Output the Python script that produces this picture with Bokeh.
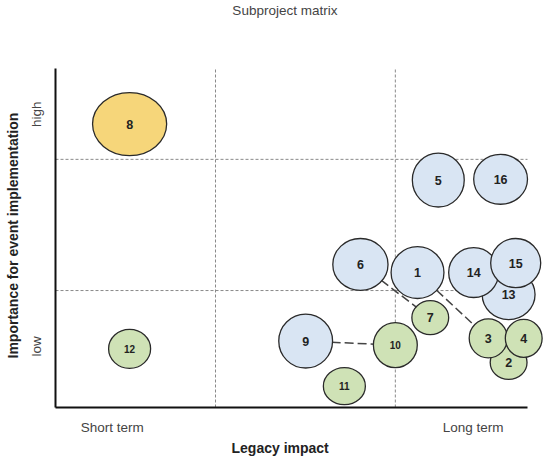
from bokeh.plotting import figure
from bokeh.models import ColumnDataSource, Range1d, FixedTicker, Title, Label
from bokeh.embed import file_html
from bokeh.resources import INLINE
from bokeh.core.properties import value

# ---- data ----
ids        = ["8", "12", "5", "16", "6", "1", "13", "14", "15", "7", "2", "3", "4", "9", "10", "11"]
legacy     = [15.7, 15.7, 81.1, 94.3, 64.6, 76.7, 96.0, 88.6, 97.5, 79.4, 96.0, 91.7, 99.2, 53.0, 72.0, 61.2]
importance = [83.6, 17.3, 67.1, 67.3, 42.2, 39.8, 33.3, 39.8, 42.6, 26.5, 13.3, 20.4, 20.4, 19.6, 18.4, 6.3]
extent_x   = [15.7, 8.9, 11.0, 11.4, 11.7, 11.2, 11.2, 10.6, 10.6, 7.8, 7.8, 8.1, 7.8, 11.4, 9.3, 8.9]
extent_y   = [18.6, 11.5, 15.9, 14.7, 15.3, 15.3, 14.7, 14.7, 14.5, 10.0, 10.0, 11.5, 11.2, 15.9, 13.3, 10.9]
group      = ["key", "minor", "main", "main", "main", "main", "main", "main", "main",
              "minor", "minor", "minor", "minor", "main", "minor", "minor"]
links      = [("9", "10"), ("6", "7"), ("1", "3")]

x_ticks = [12, 88.5]
x_tick_labels = ["Short term", "Long term"]
y_ticks = [18, 86.5]
y_tick_labels = ["low", "high"]
x_dividers = [33.9, 72.0]
y_dividers = [34.5, 73.2]

colors = {"main": "#d9e5f3", "minor": "#cfe2b6", "key": "#f6d67a"}
FONT = "Liberation Sans"

p = figure(width=543, height=456, output_backend="svg", toolbar_location=None,
           x_range=Range1d(-0.424, 103.39), y_range=Range1d(-0.59, 120.06),
           min_border_left=53, min_border_right=0, min_border_top=0, min_border_bottom=47)
p.outline_line_color = None
p.xgrid.grid_line_color = None
p.ygrid.grid_line_color = None

for ax, ticks, labels in ((p.xaxis[0], x_ticks, x_tick_labels), (p.yaxis[0], y_ticks, y_tick_labels)):
    ax.ticker = FixedTicker(ticks=ticks)
    ax.major_label_overrides = {t: l for t, l in zip(ticks, labels)}
    ax.axis_line_color = None
    ax.major_tick_line_color = None
    ax.minor_tick_line_color = None
    ax.major_tick_out = 0
    ax.major_tick_in = 0
    ax.major_label_text_font = FONT
    ax.major_label_text_font_size = "13.5px"
    ax.major_label_text_color = "#444444"
p.xaxis[0].major_label_standoff = 10
p.yaxis[0].major_label_standoff = 9
p.yaxis[0].major_label_orientation = "vertical"

# dashed quadrant dividers
p.segment(x0=x_dividers, x1=x_dividers, y0=[0] * len(x_dividers), y1=[100] * len(x_dividers),
          line_color="#8a8a8a", line_width=1, line_dash="3 2")
p.segment(x0=[0] * len(y_dividers), x1=[100] * len(y_dividers), y0=y_dividers, y1=y_dividers,
          line_color="#8a8a8a", line_width=1, line_dash="3 2")

# spines
p.segment(x0=[0, 0], y0=[0, 0], x1=[100, 0], y1=[0, 100], line_color="#111111", line_width=2)

# connector lines
idx = {k: i for i, k in enumerate(ids)}
p.segment(x0=[legacy[idx[a]] for a, b in links], y0=[importance[idx[a]] for a, b in links],
          x1=[legacy[idx[b]] for a, b in links], y1=[importance[idx[b]] for a, b in links],
          line_color="#444444", line_width=1.5, line_dash="9 4")

src = ColumnDataSource(dict(
    x=legacy, y=importance, w=extent_x, h=extent_y, label=ids,
    fill=[colors[g] for g in group],
    fs=["10px" if (len(t) > 1 and w < 10) else "12.5px" for t, w in zip(ids, extent_x)],
))
p.ellipse(x="x", y="y", width="w", height="h", source=src, fill_color="fill",
          line_color="#2a2a2a", line_width=1.3)
p.text(x="x", y="y", text="label", source=src, text_align="center", text_baseline="middle",
       text_font=value(FONT), text_font_style="bold", text_font_size="fs", text_color="#222222")

# titles
p.add_layout(Label(x=48.6, y=120.06, y_offset=-2, text="Subproject matrix", text_align="center",
                   text_baseline="top", text_font=FONT, text_font_size="13.5px",
                   text_color="#444444"))
p.add_layout(Title(text="Importance for event implementation", align="left", offset=51,
                   vertical_align="top", standoff=8, text_font=FONT, text_font_size="14px",
                   text_font_style="bold", text_color="#222222"), "left")
p.add_layout(Title(text="Legacy impact", align="left", offset=178, vertical_align="bottom",
                   standoff=0, text_font=FONT, text_font_size="14px",
                   text_font_style="bold", text_color="#222222"), "below")

open("out.html", "w").write(file_html(p, INLINE))
